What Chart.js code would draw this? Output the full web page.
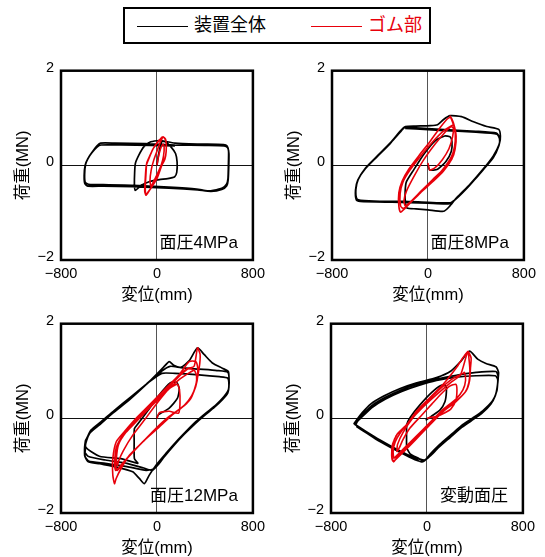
<!DOCTYPE html>
<html>
<head>
<meta charset="utf-8">
<script src="https://cdn.jsdelivr.net/npm/chart.js@4.4.1/dist/chart.umd.min.js"></script>
<style>
  html, body { margin: 0; padding: 0; background: #fff; }
  body { width: 545px; height: 557px; position: relative; overflow: hidden;
         font-family: 'Liberation Sans', 'Noto Sans CJK JP', sans-serif; }
  .legend { position: absolute; left: 123px; top: 7px; width: 304px; height: 33px;
            border: 2px solid #000; background: #fff; }
  .legend .item { position: absolute; top: 0; height: 33px; font-size: 18px; line-height: 33px; white-space: nowrap; }
  .legend .swatch { position: absolute; left: 0; top: 17px; width: 51px; height: 1px; }
  .legend .txt { position: absolute; left: 57px; top: 0; }
  canvas { position: absolute; }
</style>
</head>
<body>
<div class="legend">
  <div class="item" style="left:12px;"><div class="swatch" style="background:#000000;"></div><span class="txt" id="lgText0" style="color:#000000;"></span></div>
  <div class="item" style="left:186px;"><div class="swatch" style="background:#e8000b;"></div><span class="txt" id="lgText1" style="color:#e8000b;"></span></div>
</div>
<canvas id="c1" width="270" height="250" style="left:0px;top:55px;"></canvas>
<canvas id="c2" width="270" height="250" style="left:271px;top:55px;"></canvas>
<canvas id="c3" width="270" height="250" style="left:0px;top:308px;"></canvas>
<canvas id="c4" width="270" height="250" style="left:270px;top:308px;"></canvas>
<script>
// ---- axis ticks and labels ----
const xTicks = [-800, 0, 800];
const yTicks = [-2, 0, 2];
const xTitle = '変位(mm)';
const yTitle = '荷重(MN)';
const seriesNames = ['装置全体', 'ゴム部'];
const panelLabels = ['面圧4MPa', '面圧8MPa', '面圧12MPa', '変動面圧'];

// ---- hysteresis paths, [displacement mm, load MN] ----
// 面圧4MPa
const whole4MPa = [
  [0,0],[15,0.25],[40,0.5],[70,0.5],[120,0.38],[155,0.25],[168,0.07],[165,-0.15],[148,-0.24],[90,-0.28],[20,-0.3],[-60,-0.34],[-130,-0.42],[-182,-0.53],[-188,-0.4],[-186,-0.15],[-180,0.04],[-150,0.22],[-110,0.39],[-60,0.49],[0,0.52],[40,0.52],
  [150,0.47],[350,0.45],[555,0.44],[585,0.41],[597,0.3],[596,0.05],[592,-0.28],[580,-0.4],[545,-0.48],[470,-0.53],[420,-0.54],[330,-0.5],[100,-0.46],[-150,-0.43],[-400,-0.41],[-570,-0.4],[-598,-0.36],[-603,-0.2],[-595,0.02],[-570,0.17],[-535,0.3],[-500,0.41],[-470,0.47],[-350,0.47],[-100,0.46],
  [150,0.43],[400,0.42],[560,0.41],[590,0.37],[600,0.25],[599,0],[594,-0.3],[582,-0.43],[540,-0.51],[450,-0.55],[340,-0.52],[100,-0.48],[-200,-0.45],[-450,-0.44],[-575,-0.44],[-601,-0.39],[-607,-0.22],[-599,0],[-576,0.14],[-541,0.27],[-502,0.38],[-466,0.43],[-300,0.43],[-50,0.42],[150,0.41]
];
const rubber4MPa = [
  [0,0],[10,0.15],[30,0.35],[50,0.45],[60,0.4],[55,0.2],[35,0],[0,-0.2],[-30,-0.35],[-50,-0.45],[-58,-0.32],[-48,-0.1],[-28,0.1],[0,0.3],[30,0.5],
  [52,0.6],[72,0.55],[78,0.38],[72,0.2],[40,0],[0,-0.28],[-50,-0.48],[-85,-0.6],[-95,-0.6],[-97,-0.45],[-92,-0.2],[-85,0.05],[-60,0.2],[-30,0.36],[10,0.5],[45,0.6],
  [62,0.58],[76,0.5],[77,0.3],[66,0.13],[30,-0.05],[-10,-0.3],[-55,-0.5],[-90,-0.63],[-102,-0.55],[-98,-0.3],[-89,0],[-66,0.15],[-36,0.33],[0,0.48],[35,0.57],[58,0.6]
];
// 面圧8MPa
const whole8MPa = [
  [0,0],[15,-0.1],[80,-0.08],[150,0.08],[195,0.3],[200,0.5],[185,0.6],[140,0.62],[60,0.52],[-30,0.25],[-120,-0.1],[-180,-0.35],[-190,-0.55],[-188,-0.8],[-175,-0.9],
  [-100,-0.92],[0,-0.94],[130,-0.97],[175,-0.88],[240,-0.68],[350,-0.4],[460,-0.08],[545,0.2],[595,0.45],[604,0.62],[590,0.76],[490,0.82],[380,0.92],[280,1.03],[185,1.05],[130,0.97],[80,0.86],[20,0.84],[-100,0.83],[-188,0.82],
  [-229,0.73],[-312,0.48],[-422,0.2],[-519,-0.05],[-582,-0.3],[-601,-0.51],[-593,-0.71],[-560,-0.74],[-400,-0.76],[-200,-0.76],[0,-0.78],[185,-0.79],[240,-0.69],[350,-0.41],[458,-0.1],[544,0.18],[593,0.44],[599,0.58],[571,0.68],[400,0.72],[100,0.76],[-100,0.79],[-192,0.8],
  [-232,0.7],[-315,0.46],[-425,0.18],[-522,-0.07],[-585,-0.31],[-604,-0.52],[-597,-0.73],[-565,-0.76],[-300,-0.78],[0,-0.8],[180,-0.81],[235,-0.71],[345,-0.43],[455,-0.11],[544,0.16],[592,0.42],[597,0.56],[575,0.66],[400,0.7],[100,0.74],[-100,0.77],[-190,0.78]
];
const rubber8MPa = [
  [0,0.05],[15,-0.1],[60,-0.05],[120,0.12],[175,0.35],[205,0.6],[212,0.78],[195,0.82],[150,0.72],[60,0.45],[-40,0.1],[-120,-0.25],[-180,-0.55],[-200,-0.75],[-190,-0.85],[-150,-0.78],[-60,-0.55],[40,-0.3],[130,-0.08],[190,0.15],[225,0.4],[230,0.7],[200,0.95],
  [185,1.04],[212,0.9],[235,0.62],[226,0.34],[199,0.13],[130,-0.12],[47,-0.33],[-63,-0.58],[-146,-0.79],[-201,-0.93],[-229,-0.99],[-243,-0.86],[-243,-0.58],[-215,-0.33],[-160,-0.08],[-77,0.2],[19,0.51],[102,0.8],[157,0.97],[190,1.02],
  [215,0.86],[228,0.65],[222,0.4],[195,0.18],[120,-0.1],[30,-0.35],[-80,-0.62],[-160,-0.82],[-205,-0.91],[-228,-0.86],[-232,-0.6],[-208,-0.35],[-150,-0.1],[-60,0.2],[40,0.5],[130,0.73],[190,0.83],[218,0.86]
];
// 面圧12MPa
const whole12MPa = [
  [0,0],[10,0.07],[100,0.21],[170,0.42],[186,0.62],[165,0.76],[110,0.75],[20,0.5],[-80,0.15],[-160,-0.12],[-188,-0.22],[-190,-0.5],[-188,-0.85],[-160,-0.95],[-300,-0.85],[-480,-0.8],[-595,-0.6],
  [-562,-0.32],[-479,-0.14],[-368,0.11],[-230,0.39],[-91,0.71],[47,1.06],[102,1.2],[140,1.12],[200,1.08],[270,1.22],[338,1.49],[393,1.35],[462,1.17],[545,1.06],[595,0.99],[601,0.78],[595,0.6],[559,0.46],[490,0.28],[407,0.11],[324,-0.07],[241,-0.28],[158,-0.5],[75,-0.74],[-8,-0.99],[-64,-1.2],[-105,-1.38],[-147,-1.27],[-202,-1.13],[-340,-1.03],[-479,-0.96],[-576,-0.91],[-603,-0.78],[-598,-0.52],
  [-590,-0.45],[-555,-0.28],[-470,-0.1],[-360,0.14],[-225,0.42],[-90,0.72],[40,1.0],[110,1.1],[200,1.07],[350,1.04],[500,1.01],[592,0.97],[602,0.75],[592,0.56],[552,0.42],[482,0.25],[400,0.08],[320,-0.1],[235,-0.31],[150,-0.53],[70,-0.77],[0,-1.0],[-40,-1.1],[-110,-1.05],[-250,-0.95],[-430,-0.88],[-575,-0.8],[-603,-0.7],[-596,-0.47],
  [-585,-0.42],[-550,-0.25],[-465,-0.07],[-355,0.17],[-220,0.45],[-85,0.73],[40,0.95],[150,0.95],[350,0.92],[520,0.88],[590,0.85],[600,0.7],[590,0.53],[548,0.4],[478,0.23],[395,0.06],[315,-0.12],[230,-0.33],[145,-0.56],[65,-0.8],[10,-0.98],[-20,-1.06],[-90,-1.1],[-250,-1.02],[-430,-0.95],[-570,-0.9],[-600,-0.8],[-595,-0.6]
];
const rubber12MPa = [
  [0,0],[20,0.12],[102,0.15],[180,0.11],[192,0.3],[188,0.6],[170,0.72],[100,0.62],[0,0.32],[-100,-0.02],[-200,-0.35],[-280,-0.68],[-320,-0.9],[-330,-1.0],[-338,-0.85],[-320,-0.55],[-260,-0.3],[-170,-0.05],[-60,0.25],[60,0.55],[170,0.85],[260,1.05],[310,1.1],
  [338,1.49],[360,1.35],[352,1.06],[324,0.71],[282,0.42],[199,0.21],[102,0.04],[-8,-0.21],[-119,-0.5],[-230,-0.78],[-299,-1.06],[-340,-1.27],[-354,-1.38],[-368,-1.2],[-368,-0.85],[-340,-0.5],[-271,-0.28],[-174,0],[-64,0.28],[75,0.64],[185,0.92],[268,1.2],[324,1.2],
  [340,1.05],[335,0.8],[305,0.55],[250,0.32],[150,0.12],[40,-0.12],[-80,-0.4],[-190,-0.68],[-270,-0.9],[-320,-1.05],[-345,-1.1],[-352,-0.9],[-337,-0.6],[-282,-0.35],[-190,-0.08],[-80,0.2],[40,0.5],[150,0.8],[250,1.05],[310,1.02],
  [330,0.9],[325,0.7],[290,0.48],[230,0.28],[130,0.08],[20,-0.18],[-100,-0.45],[-210,-0.74],[-285,-0.95],[-330,-1.1],[-346,-1.0],[-345,-0.78],[-320,-0.52],[-260,-0.3],[-165,-0.05],[-50,0.25],[70,0.55],[190,0.83],[280,0.98],[310,1.02]
];
// 変動面圧
const wholeVarying = [
  [0,0],[-5,-0.03],[40,0.05],[110,0.18],[150,0.35],[162,0.55],[158,0.68],[120,0.7],[40,0.55],[-60,0.28],[-140,0.02],[-168,-0.13],[-170,-0.4],[-168,-0.62],[-140,-0.75],[-60,-0.86],[-140,-0.82],[-250,-0.68],[-388,-0.48],[-498,-0.3],[-580,-0.16],
  [-608,-0.11],[-594,-0.06],[-539,0.12],[-470,0.3],[-360,0.47],[-223,0.63],[-85,0.75],[80,0.86],[200,1.0],[280,1.2],[355,1.42],[423,1.25],[492,1.16],[575,1.09],[597,0.97],[591,0.79],[583,0.58],[547,0.37],[465,0.16],[382,0.01],[300,-0.13],[203,-0.34],[107,-0.55],[25,-0.76],[-16,-0.89],[-44,-0.92],[-140,-0.82],[-250,-0.68],[-388,-0.48],[-498,-0.3],[-580,-0.16],[-608,-0.11],
  [-600,-0.12],[-585,-0.05],[-530,0.1],[-460,0.27],[-350,0.44],[-215,0.6],[-80,0.72],[80,0.83],[245,0.91],[410,0.97],[575,0.99],[594,0.88],[588,0.7],[575,0.52],[540,0.33],[460,0.13],[375,-0.02],[295,-0.16],[200,-0.37],[105,-0.58],[30,-0.78],[-20,-0.88],[-60,-0.86],[-150,-0.78],[-260,-0.64],[-395,-0.45],[-505,-0.28],[-585,-0.15],[-600,-0.12],
  [-595,-0.14],[-578,-0.06],[-522,0.08],[-452,0.24],[-345,0.41],[-210,0.57],[-75,0.69],[80,0.8],[245,0.87],[410,0.9],[570,0.9],[590,0.82],[585,0.65],[570,0.48],[532,0.3],[455,0.1],[370,-0.05],[290,-0.19],[195,-0.4],[100,-0.61],[25,-0.8],[-25,-0.9],[-70,-0.9],[-160,-0.8],[-270,-0.66],[-400,-0.48],[-510,-0.3],[-590,-0.17]
];
const rubberVarying = [
  [0,0],[30,0.02],[80,0.04],[150,0.12],[200,0.2],[240,0.37],[250,0.6],[240,0.72],[190,0.68],[120,0.52],[40,0.3],[-50,0.05],[-140,-0.2],[-200,-0.45],[-230,-0.62],[-250,-0.7],[-245,-0.55],[-200,-0.3],[-120,0],[-20,0.3],[100,0.6],[220,0.85],[300,0.95],
  [313,0.97],[322,0.8],[300,0.6],[240,0.4],[130,0.18],[20,-0.1],[-90,-0.38],[-190,-0.63],[-250,-0.78],[-275,-0.84],[-282,-0.7],[-265,-0.5],[-220,-0.3],[-140,-0.05],[-40,0.22],[80,0.5],[200,0.76],[280,0.92],
  [341,1.41],[368,1.28],[363,1.07],[355,0.79],[327,0.58],[245,0.37],[135,0.16],[25,-0.13],[-85,-0.41],[-195,-0.69],[-250,-0.83],[-278,-0.92],[-291,-0.83],[-283,-0.55],[-250,-0.34],[-168,-0.13],[-85,0.16],[25,0.44],[135,0.72],[245,1.07],[300,1.28],[341,1.41],
  [352,1.22],[358,1.0],[350,0.76],[320,0.56],[240,0.35],[130,0.13],[20,-0.15],[-90,-0.44],[-200,-0.72],[-262,-0.87],[-285,-0.9],[-294,-0.78],[-288,-0.56],[-255,-0.36]
];

// ---- drawing ----
const FONT = "'Liberation Sans', 'Noto Sans CJK JP', sans-serif";
const BLACK = '#000000';
const RED = '#e8000b';
Chart.defaults.font.family = FONT;
Chart.defaults.color = '#000';

// legend texts
document.getElementById('lgText0').textContent = seriesNames[0];
document.getElementById('lgText1').textContent = seriesNames[1];

const minus = v => (v < 0 ? '\u2212' + Math.abs(v) : String(v));
const zeroLine = color => ctx => (ctx.tick && ctx.tick.value === 0 ? color : 'rgba(0,0,0,0)');

// frame round the plot area plus the test-condition caption
const framePlugin = {
  id: 'frame',
  afterDraw(chart, args, opts) {
    const { ctx, chartArea: a } = chart;
    ctx.save();
    ctx.strokeStyle = '#000';
    ctx.lineWidth = 2.5;
    ctx.strokeRect(a.left, a.top, a.right - a.left, a.bottom - a.top);
    ctx.font = '17px ' + FONT;
    ctx.fillStyle = '#000';
    ctx.textAlign = 'right';
    ctx.textBaseline = 'middle';
    ctx.fillText(opts.label, a.right - 15, a.bottom - 17);
    ctx.restore();
  }
};

const toPts = arr => arr.map(([x, y]) => ({ x, y }));

function makeChart(id, label, whole, rubber) {
  return new Chart(document.getElementById(id), {
    type: 'scatter',
    data: {
      datasets: [
        { label: seriesNames[1], data: toPts(rubber), showLine: true, borderColor: RED,
          borderWidth: 1.6, pointRadius: 0, tension: 0.2, fill: false },
        { label: seriesNames[0], data: toPts(whole), showLine: true, borderColor: BLACK,
          borderWidth: 1.7, pointRadius: 0, tension: 0.2, fill: false }
      ]
    },
    options: {
      responsive: false,
      animation: false,
      devicePixelRatio: 1,
      layout: { padding: { left: 0, top: 15, right: 15, bottom: 0 } },
      plugins: { legend: { display: false }, tooltip: { enabled: false }, frame: { label } },
      scales: {
        x: {
          type: 'linear', min: xTicks[0], max: xTicks[xTicks.length - 1],
          afterBuildTicks: s => { s.ticks = xTicks.map(v => ({ value: v })); },
          afterFit: s => { s.height = 45; },
          ticks: { callback: minus, font: { size: 14.5 }, color: '#000', padding: 5, maxRotation: 0, autoSkip: false },
          grid: { drawTicks: false, lineWidth: 1, color: zeroLine('#555') },
          border: { display: false },
          title: { display: true, text: xTitle, font: { size: 16.5 }, color: '#000', padding: { top: 0, bottom: 0 } }
        },
        y: {
          type: 'linear', min: yTicks[0], max: yTicks[yTicks.length - 1],
          afterBuildTicks: s => { s.ticks = yTicks.map(v => ({ value: v })); },
          afterFit: s => { s.width = 61; },
          ticks: { callback: minus, font: { size: 14.5 }, color: '#000', padding: 7, labelOffset: -3, autoSkip: false },
          grid: { drawTicks: false, lineWidth: 1, color: zeroLine('#111') },
          border: { display: false },
          title: { display: true, text: yTitle, font: { size: 16.5 }, color: '#000', padding: { top: 14, bottom: 0 } }
        }
      }
    },
    plugins: [framePlugin]
  });
}

makeChart('c1', panelLabels[0], whole4MPa, rubber4MPa);
makeChart('c2', panelLabels[1], whole8MPa, rubber8MPa);
makeChart('c3', panelLabels[2], whole12MPa, rubber12MPa);
makeChart('c4', panelLabels[3], wholeVarying, rubberVarying);
</script>
</body>
</html>
